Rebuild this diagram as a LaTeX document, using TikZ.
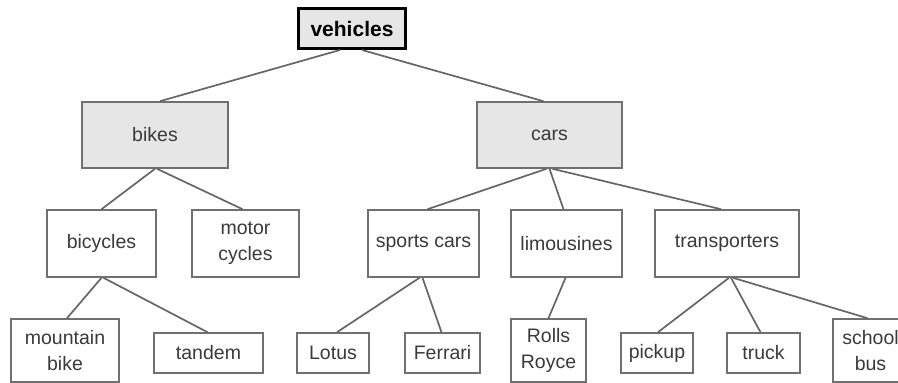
\documentclass[tikz,border=0pt]{standalone}
\usepackage{fontspec}
\setmainfont{Liberation Sans}
\begin{document}
\begin{tikzpicture}[x=1pt,y=-1pt,
  box/.style={draw=boxgray,line width=1.6pt,fill=white,inner sep=0pt,align=center,
    text=txtgray,font=\fontsize{19.5}{26}\selectfont},
  topbox/.style={box,fill=fillgray},
  rootbox/.style={draw=black,line width=3pt,fill=fillgray,inner sep=0pt,
    font=\fontsize{21}{26}\selectfont\bfseries,text=black},
  link/.style={draw=linegray,line width=1.7pt}]
\definecolor{boxgray}{HTML}{707070}
\definecolor{fillgray}{HTML}{E6E6E6}
\definecolor{txtgray}{HTML}{3A3A3A}
\definecolor{linegray}{HTML}{666666}
\clip (0,0) rectangle (898,383);
\fill[white] (0,0) rectangle (898,383);
% root
\node[rootbox,minimum width=107pt,minimum height=40pt] (veh) at (352,28.5) {vehicles};
% level 1
\node[topbox,minimum width=146pt,minimum height=66pt] (bikes) at (155,135) {bikes};
\node[topbox,minimum width=145pt,minimum height=66pt] (cars) at (549.5,135) {cars};
% level 2
\node[box,minimum width=109pt,minimum height=67pt] (bicyc) at (101.5,243.5) {bicycles};
\node[box,minimum width=107pt,minimum height=67pt] (motor) at (245.5,243.5) {motor\\cycles};
\node[box,minimum width=111pt,minimum height=67pt] (sports) at (423.5,243.5) {sports cars};
\node[box,minimum width=111pt,minimum height=67pt] (limo) at (566.5,243.5) {limousines};
\node[box,minimum width=144pt,minimum height=67pt] (trans) at (727,243.5) {transporters};
% level 3
\node[box,minimum width=108pt,minimum height=63pt] (mtb) at (65,350.5) {mountain\\bike};
\node[box,minimum width=109pt,minimum height=40pt] (tandem) at (208.5,353) {tandem};
\node[box,minimum width=72pt,minimum height=40pt] (lotus) at (333,353) {Lotus};
\node[box,minimum width=75pt,minimum height=40pt] (ferrari) at (442.5,353) {Ferrari};
\node[box,minimum width=75pt,minimum height=63pt] (rolls) at (548.5,350.5) {Rolls\\Royce};
\node[box,minimum width=72pt,minimum height=40pt] (pickup) at (657,353) {pickup};
\node[box,minimum width=73pt,minimum height=40pt] (truck) at (763.5,353) {truck};
\node[box,minimum width=75pt,minimum height=63pt] (school) at (870.5,350.5) {school\\bus};
% connectors
\begin{scope}[on background layer/.style={}]
\path[link] ([xshift=-12pt]veh.south) -- ([xshift=5pt]bikes.north);
\path[link] ([xshift=10pt]veh.south) -- ([xshift=-6pt]cars.north);
\path[link] (bikes.south) -- (bicyc.north);
\path[link] ([xshift=2pt]bikes.south) -- ([xshift=-3pt]motor.north);
\path[link] (bicyc.south) -- ([xshift=2pt]mtb.north);
\path[link] ([xshift=2pt]bicyc.south) -- ([xshift=-1pt]tandem.north);
\path[link] ([xshift=-3pt]cars.south) -- ([xshift=4pt]sports.north);
\path[link] ([xshift=0pt]cars.south) -- ([xshift=-3pt]limo.north);
\path[link] ([xshift=3pt]cars.south) -- ([xshift=-6pt]trans.north);
\path[link] ([xshift=-4pt]sports.south) -- ([xshift=4pt]lotus.north);
\path[link] ([xshift=-1pt]sports.south) -- ([xshift=-1pt]ferrari.north);
\path[link] ([xshift=-1pt]limo.south) -- ([xshift=0pt]rolls.north);
\path[link] ([xshift=2pt]trans.south) -- ([xshift=1pt]pickup.north);
\path[link] ([xshift=4pt]trans.south) -- ([xshift=-3pt]truck.north);
\path[link] ([xshift=6pt]trans.south) -- ([xshift=-3pt]school.north);
\end{scope}
\end{tikzpicture}
\end{document}
